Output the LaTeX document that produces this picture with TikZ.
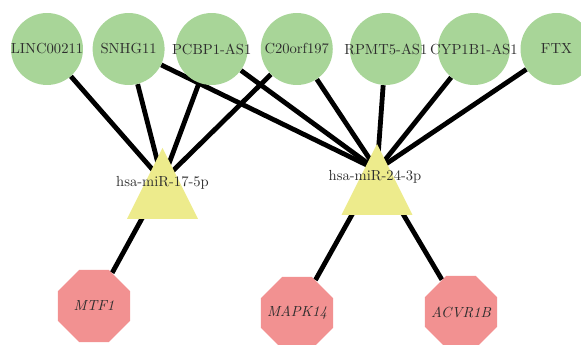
\documentclass[tikz,border=0pt]{standalone}
\usepackage{tikz}
\usetikzlibrary{shapes.geometric, positioning, backgrounds}
\definecolor{lncgreen}{RGB}{168,213,152}
\definecolor{miryellow}{RGB}{237,235,140}
\definecolor{mrnapink}{RGB}{242,145,145}
\definecolor{labelgray}{RGB}{45,45,45}
\tikzstyle{lncrna} = [circle, fill=lncgreen, minimum size=49.3pt, inner sep=0pt]
\tikzstyle{mirna} = [isosceles triangle, shape border rotate=90, isosceles triangle stretches, minimum width=48.6pt, minimum height=48.6pt, inner sep=0pt, fill=miryellow]
\tikzstyle{mirtext} = [text=labelgray, inner sep=0pt]
\tikzstyle{mrna} = [regular polygon, regular polygon sides=8, minimum size=53.4pt, inner sep=0pt, fill=mrnapink]
\tikzstyle{edge} = [line width=3.3pt, black]

\begin{document}
\begin{tikzpicture}[x=0.685pt, y=-0.685pt, every label/.style={text=labelgray}]

	\useasboundingbox (0,0) rectangle (581,345);

	% lncRNAs
	\node (linc) [lncrna, label=center:LINC00211] at (47,49) {};
	\node (snhg) [lncrna, right=6.2pt of linc, label=center:SNHG11] {};
	\node (pcbp) [lncrna, right=7.2pt of snhg, label=center:PCBP1-AS1] {};
	\node (corf) [lncrna, right=8.6pt of pcbp, label=center:C20orf197] {};
	\node (rpmt) [lncrna, right=11.3pt of corf, label=center:RPMT5-AS1] {};
	\node (cyp)  [lncrna, right=10.6pt of rpmt, label=center:CYP1B1-AS1] {};
	\node (ftx)  [lncrna, right=6.9pt of cyp, label=center:FTX] {};

	% miRNAs
	\node (mir17) [mirna] at (162.5,197) {};
	\node (mir24) [mirna] at (377,193) {};
	\node (mir17txt) [mirtext] at (162.5,182.5) {hsa-miR-17-5p};
	\node (mir24txt) [mirtext] at (375,177) {hsa-miR-24-3p};
	% points where the edges meet, hidden behind the triangles
	\coordinate (hub17) at (162.5,181);
	\coordinate (hub24) at (377,170);

	% mRNAs
	\node (mtf)  [mrna, label={[font=\itshape]center:MTF1}] at (94,306) {};
	\node (mapk) [mrna, label={[font=\itshape]center:MAPK14}] at (297,313) {};
	\node (acvr) [mrna, label={[font=\itshape]center:ACVR1B}] at (461,312) {};

	\begin{pgfonlayer}{background}
		% lncRNA -- miRNA
		\draw[edge] (linc) -- (hub17);
		\draw[edge] (snhg) -- (hub17);
		\draw[edge] (pcbp) -- (hub17);
		\draw[edge] (corf) -- (hub17);
		\draw[edge] (snhg) -- (hub24);
		\draw[edge] (pcbp) -- (hub24);
		\draw[edge] (corf) -- (hub24);
		\draw[edge] (rpmt) -- (hub24);
		\draw[edge] (cyp) -- (hub24);
		\draw[edge] (ftx) -- (hub24);

		% miRNA -- mRNA
		\draw[edge] (hub17) -- (mtf);
		\draw[edge] (hub24) -- (mapk);
		\draw[edge] (hub24) -- (acvr);
	\end{pgfonlayer}

\end{tikzpicture}
\end{document}
